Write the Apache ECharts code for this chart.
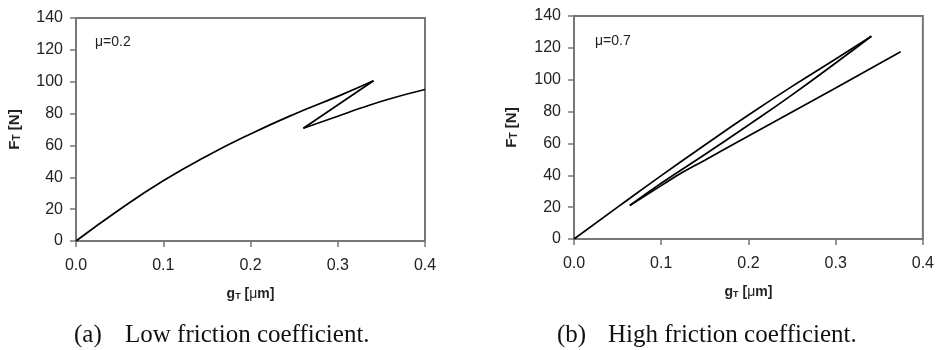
<!DOCTYPE html>
<html>
<head>
<meta charset="utf-8">
<script src="https://cdn.jsdelivr.net/npm/echarts@6/dist/echarts.min.js"></script>
<style>
html,body{margin:0;padding:0;background:#fff;}
#c{width:937px;height:350px;}
</style>
</head>
<body>
<div id="c"></div>
<script>
// ---- data (a) mu = 0.2 ----
var aLoading   = [[0,0],[0.05,19.8],[0.1,37.8],[0.15,53.4],[0.2,67.2],[0.25,79.6],[0.3,90.8],[0.341,100.6]];
var aUnloading = [[0.341,100.6],[0.2606,70.8]];
var aReloading = [[0.2606,70.8],[0.3,78.3],[0.3256,83.3],[0.36,89.3],[0.4,95.1]];
// ---- data (b) mu = 0.7 ----
var bLoading   = [[0,0],[0.05,20],[0.1,39.8],[0.15,59],[0.2,77.8],[0.25,95.8],[0.3,113],[0.341,127.3]];
var bUnloading = [[0.341,127.3],[0.3,110.5],[0.25,90.5],[0.2,71.5],[0.15,53],[0.1,35],[0.064,21]];
var bReloading = [[0.064,21],[0.1,33.5],[0.125,42],[0.15,49.5],[0.2,64.7],[0.25,79.8],[0.3,94.8],[0.3745,117.5]];
// ---- axes / texts ----
var xTicks = {min:0, max:0.4, interval:0.1};
var yTicks = {min:0, max:140, interval:20};
var muLabels = ['\u03bc=0.2','\u03bc=0.7'];
var captions = [['(a)','Low friction coefficient.'],['(b)','High friction coefficient.']];

var chart = echarts.init(document.getElementById('c'));
var grids = [
  {left:76, top:18, width:349, height:223},
  {left:574, top:16, width:350, height:223}
];
var axisCol = '#777';
function xAxis(i){
  return {
    type:'value', gridIndex:i, min:xTicks.min, max:xTicks.max, interval:xTicks.interval,
    name:'{b|g}{s|T}{b| [}{m|\u03bc}{b|m]}', nameLocation:'middle', nameGap:46,
    nameTextStyle:{rich:{
      b:{fontFamily:'Liberation Sans', fontWeight:'bold', fontSize:14, color:'#222'},
      m:{fontFamily:'Liberation Sans', fontSize:14, color:'#222'},
      s:{fontFamily:'Liberation Sans', fontWeight:'bold', fontSize:9, color:'#222', padding:[5,0,0,0]}
    }},
    axisLine:{show:true, lineStyle:{color:axisCol, width:2}},
    axisTick:{show:true, inside:false, length:6, lineStyle:{color:axisCol, width:1.5}},
    axisLabel:{fontFamily:'Liberation Sans', fontSize:16, color:'#222', margin:17,
      formatter:function(v){return v.toFixed(1);}},
    splitLine:{show:false}
  };
}
function yAxis(i){
  return {
    type:'value', gridIndex:i, min:yTicks.min, max:yTicks.max, interval:yTicks.interval,
    name:'{b|F}{s|T}{b| [N]}', nameLocation:'middle', nameGap:i===0?54:55, nameRotate:90,
    nameTextStyle:{rich:{
      b:{fontFamily:'Liberation Sans', fontWeight:'bold', fontSize:15, color:'#222'},
      s:{fontFamily:'Liberation Sans', fontWeight:'bold', fontSize:10, color:'#222', padding:[5,0,0,0]}
    }},
    axisLine:{show:true, lineStyle:{color:axisCol, width:2}},
    axisTick:{show:true, inside:false, length:6, lineStyle:{color:axisCol, width:1.5}},
    axisLabel:{fontFamily:'Liberation Sans', fontSize:16, color:'#222', margin:13},
    splitLine:{show:false}
  };
}
function ser(data, i, smooth){
  return {type:'line', xAxisIndex:i, yAxisIndex:i, data:data, showSymbol:false, symbol:'none',
    smooth:smooth, lineStyle:{color:'#000', width:1.7}, animation:false, silent:true};
}
var capFont = '25px "Liberation Serif", "Times New Roman", serif';
function cap(x, t){
  return {type:'text', x:x, y:335, style:{text:t, font:capFont, fill:'#111', verticalAlign:'middle', align:'left'}};
}
chart.setOption({
  animation:false,
  grid:grids.map(function(g){return Object.assign({show:true, borderColor:axisCol, borderWidth:2, containLabel:false}, g);}),
  xAxis:[xAxis(0), xAxis(1)],
  yAxis:[yAxis(0), yAxis(1)],
  series:[
    ser(aLoading,0,0.5), ser(aUnloading,0,false), ser(aReloading,0,0.5),
    ser(bLoading,1,0.5), ser(bUnloading,1,0.5), ser(bReloading,1,0.5)
  ],
  graphic:[
    {type:'text', left:95, top:35, style:{text:muLabels[0], font:'14px "Liberation Sans", Arial', fill:'#222'}},
    {type:'text', left:595, top:34, style:{text:muLabels[1], font:'14px "Liberation Sans", Arial', fill:'#222'}},
    cap(74, captions[0][0]), cap(125, captions[0][1]),
    cap(557, captions[1][0]), cap(608, captions[1][1])
  ]
});
</script>
</body>
</html>
